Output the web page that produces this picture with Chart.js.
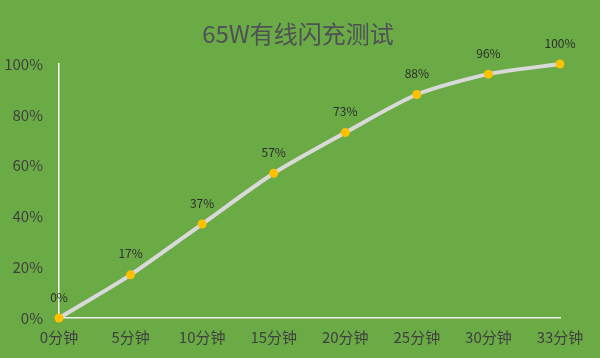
<!DOCTYPE html>
<html>
<head>
<meta charset="utf-8">
<script src="https://cdn.jsdelivr.net/npm/chart.js@4/dist/chart.umd.min.js"></script>
<style>
html,body{margin:0;padding:0;background:#6aab45;}
canvas{display:block;}
</style>
</head>
<body>
<canvas id="c" width="600" height="358"></canvas>
<script>
const categories = ["0分钟","5分钟","10分钟","15分钟","20分钟","25分钟","30分钟","33分钟"];
const chargePercent = [0,17,37,57,73,88,96,100];
const yTicks = [0,20,40,60,80,100];
const titleText = "65W有线闪充测试";

const FONT = "'Noto Sans CJK SC', 'Noto Sans', sans-serif";

const bgPlugin = {
  id: 'bg',
  beforeDraw(chart){
    const ctx = chart.ctx;
    ctx.save();
    ctx.fillStyle = '#6aab45';
    ctx.fillRect(0,0,chart.width,chart.height);
    ctx.restore();
  }
};

const titlePlugin = {
  id: 'centeredTitle',
  afterDraw(chart){
    const ctx = chart.ctx;
    ctx.save();
    ctx.font = "24px " + FONT;
    ctx.fillStyle = '#4f5156';
    ctx.textAlign = 'center';
    ctx.textBaseline = 'middle';
    ctx.fillText(titleText, 298, 34);
    ctx.restore();
  }
};

const labelPlugin = {
  id: 'pointLabels',
  afterDatasetsDraw(chart){
    const ctx = chart.ctx;
    const meta = chart.getDatasetMeta(0);
    const data = chart.data.datasets[0].data;
    ctx.save();
    ctx.font = "12px " + FONT;
    ctx.fillStyle = '#2e2e2e';
    ctx.textAlign = 'center';
    ctx.textBaseline = 'middle';
    meta.data.forEach((pt, i) => {
      ctx.fillText(data[i] + '%', pt.x, pt.y - 21);
    });
    ctx.restore();
  }
};

new Chart(document.getElementById('c'), {
  type: 'line',
  data: {
    labels: categories,
    datasets: [{
      data: chargePercent,
      borderColor: '#d9d9d9',
      borderWidth: 4,
      tension: 0.25,
      pointRadius: 4.5,
      pointHoverRadius: 4.5,
      pointBackgroundColor: '#ffc000',
      pointBorderColor: '#ffc000',
      pointBorderWidth: 0,
      clip: false
    }]
  },
  options: {
    responsive: false,
    animation: false,
    layout: { padding: { left: 0, right: 40, top: 64, bottom: 0 } },
    plugins: {
      legend: { display: false },
      tooltip: { enabled: false },
      title: { display: false }
    },
    scales: {
      x: {
        offset: false,
        grid: { display: false, drawTicks: false },
        border: { display: true, color: '#eeeeee', width: 1.5 },
        ticks: {
          color: '#404040',
          font: { family: FONT, size: 15 },
          padding: 10,
          maxRotation: 0,
          autoSkip: false
        },
        afterFit(scale){ scale.height = 40; }
      },
      y: {
        min: 0,
        max: 100,
        grid: { display: false, drawTicks: false },
        border: { display: true, color: '#ffffff', width: 1.5 },
        afterBuildTicks(scale){ scale.ticks = yTicks.map(v => ({value: v})); },
        ticks: {
          color: '#404040',
          font: { family: FONT, size: 15 },
          padding: 16,
          callback: v => v + '%'
        },
        afterFit(scale){ scale.width = 59; }
      }
    }
  },
  plugins: [bgPlugin, titlePlugin, labelPlugin]
});
</script>
</body>
</html>
